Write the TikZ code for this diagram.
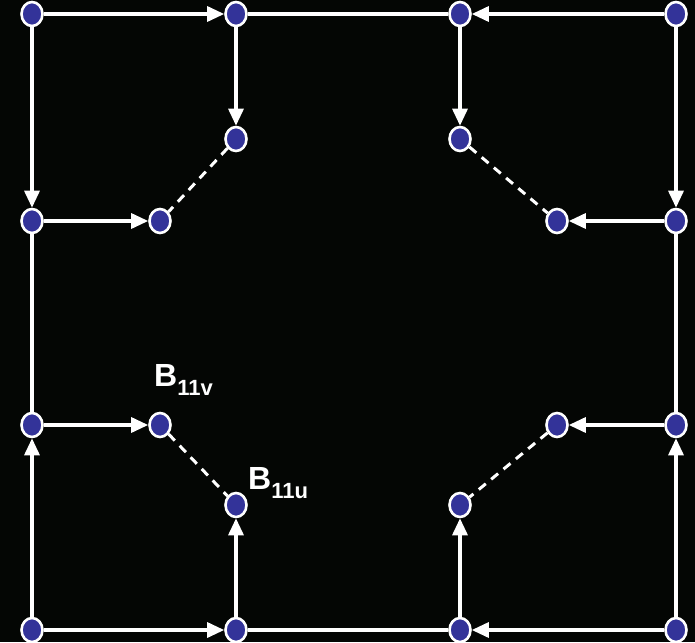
\documentclass[tikz,border=0pt]{standalone}
\usepackage{fontspec}
\setmainfont{Liberation Sans}
\usetikzlibrary{shapes.geometric,arrows.meta}
\definecolor{dotblue}{HTML}{333399}
\definecolor{bg}{HTML}{040604}
\begin{document}
\begin{tikzpicture}[x=1pt,y=-1pt,
  pt/.style={ellipse,draw=white,line width=2.6pt,fill=dotblue,minimum width=21pt,minimum height=24pt,inner sep=0pt},
  arr/.style={draw=white,line width=3.2pt,-{Triangle[length=17pt,width=15pt]}},
  ln/.style={draw=white,line width=3.2pt},
  dsh/.style={draw=white,line width=3pt,dash pattern=on 9pt off 7pt},
  lab/.style={text=white,font=\bfseries,inner sep=0pt,anchor=base west}]
\fill[bg] (0,0) rectangle (695,642);
\useasboundingbox (0,0) rectangle (695,642);
% top row
\node[pt] (t1) at (32,14) {};
\node[pt] (t2) at (236,14) {};
\node[pt] (t3) at (460,14) {};
\node[pt] (t4) at (676,14) {};
% inner top
\node[pt] (a2) at (236,139) {};
\node[pt] (a3) at (460,139) {};
% row 221
\node[pt] (b1) at (32,221) {};
\node[pt] (b2) at (160,221) {};
\node[pt] (b3) at (557,221) {};
\node[pt] (b4) at (676,221) {};
% row 425
\node[pt] (c1) at (32,425) {};
\node[pt] (c2) at (160,425) {};
\node[pt] (c3) at (557,425) {};
\node[pt] (c4) at (676,425) {};
% inner bottom
\node[pt] (d2) at (236,505) {};
\node[pt] (d3) at (460,505) {};
% bottom row
\node[pt] (e1) at (32,630) {};
\node[pt] (e2) at (236,630) {};
\node[pt] (e3) at (460,630) {};
\node[pt] (e4) at (676,630) {};
% edges
\draw[arr] (t1) -- (t2);
\draw[ln] (t2) -- (t3);
\draw[arr] (t4) -- (t3);
\draw[arr] (t2) -- (a2);
\draw[arr] (t3) -- (a3);
\draw[arr] (t1) -- (b1);
\draw[arr] (t4) -- (b4);
\draw[arr] (b1) -- (b2);
\draw[arr] (b4) -- (b3);
\draw[dsh] (a2) -- (b2);
\draw[dsh] (a3) -- (b3);
\draw[ln] (b1) -- (c1);
\draw[ln] (b4) -- (c4);
\draw[arr] (c1) -- (c2);
\draw[arr] (c4) -- (c3);
\draw[dsh] (c2) -- (d2);
\draw[dsh] (c3) -- (d3);
\draw[arr] (e1) -- (c1);
\draw[arr] (e2) -- (d2);
\draw[arr] (e3) -- (d3);
\draw[arr] (e4) -- (c4);
\draw[arr] (e1) -- (e2);
\draw[ln] (e2) -- (e3);
\draw[arr] (e4) -- (e3);
% labels
\node[lab] (lv) at (154,386) {\fontsize{32}{32}\selectfont B\raisebox{-9pt}{\fontsize{22}{22}\selectfont 11v}};
\node[lab] (lu) at (248,489) {\fontsize{32}{32}\selectfont B\raisebox{-9pt}{\fontsize{22}{22}\selectfont 11u}};
\end{tikzpicture}
\end{document}
